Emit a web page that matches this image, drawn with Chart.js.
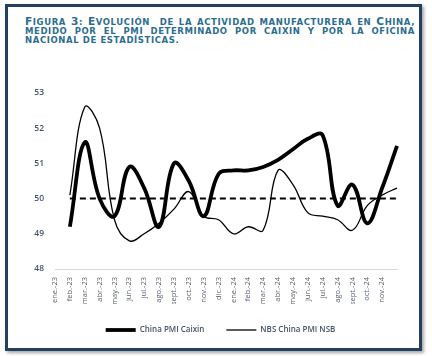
<!DOCTYPE html>
<html>
<head>
<meta charset="utf-8">
<script src="https://cdn.jsdelivr.net/npm/chart.js@4"></script>
<style>
  html, body { margin: 0; padding: 0; background: #ffffff; }
  body { width: 432px; height: 356px; position: relative; overflow: hidden; }
  #frame {
    position: absolute; left: 5px; top: 4px; width: 411px; height: 341px;
    border: 3px solid #243f60; box-shadow: 2px 2px 3px rgba(0,0,0,0.35);
    background: #fff;
  }
  #title {
    position: absolute; left: 25px; top: 17px; width: 390px;
    font-family: "DejaVu Sans", Verdana, sans-serif; font-weight: bold;
    text-transform: uppercase; font-size: 8.5px; line-height: 8.9px;
    letter-spacing: 0.6px; color: #2b6d8e; text-align: justify;
  }
  #title .cap { font-size: 10.6px; line-height: 8.9px; }
  #wrap { position: absolute; left: 0; top: 0; width: 432px; height: 356px; }
</style>
</head>
<body>
<div id="frame"></div>
<div id="title"><span class="cap">F</span>igura <span class="cap">3</span>: <span class="cap">E</span>volución&nbsp; de la actividad manufacturera en <span class="cap">C</span>hina, medido por el pmi determinado por caixin y por la oficina nacional de estadísticas.</div>
<div id="wrap"><canvas id="c" width="432" height="356"></canvas></div>
<script>
const months = ['ene.-23','feb.-23','mar.-23','abr.-23','may.-23','jun.-23','jul.-23','ago.-23','sept.-23','oct.-23','nov.-23','dic.-23',
                'ene.-24','feb.-24','mar.-24','abr.-24','may.-24','jun.-24','jul.-24','ago.-24','sept.-24','oct.-24','nov.-24',''];
const caixin = [null, 49.2, 51.6, 50.0, 49.5, 50.9, 50.3, 49.2, 51.0, 50.5, 49.5, 50.7, 50.8,
                50.8, 50.9, 51.1, 51.4, 51.7, 51.8, 49.8, 50.4, 49.3, 50.3, 51.5];
const nbs    = [null, 50.1, 52.6, 52.0, 49.4, 48.8, 49.0, 49.3, 49.7, 50.2, 49.5, 49.4, 49.0,
                49.2, 49.1, 50.8, 50.4, 49.6, 49.5, 49.4, 49.1, 49.8, 50.1, 50.3];
const threshold = [null, 50, 50, 50, 50, 50, 50, 50, 50, 50, 50, 50, 50,
                   50, 50, 50, 50, 50, 50, 50, 50, 50, 50, 50];
const yMin = 48, yMax = 53, yStep = 1;

const shiftLegend = {
  id: 'shiftLegend',
  afterLayout(chart) {
    const lg = chart.legend;
    if (lg) { lg.left += 7; lg.right += 7; }
  }
};

new Chart(document.getElementById('c'), {
  type: 'line',
  data: {
    labels: months,
    datasets: [
      { label: 'China PMI Caixin', data: caixin, borderColor: '#000', backgroundColor: '#000',
        borderWidth: 3.8, tension: 0.4, pointRadius: 0, pointStyle: 'line', order: 1 },
      { label: 'NBS China PMI NSB', data: nbs, borderColor: '#000', backgroundColor: '#000',
        borderWidth: 1.3, tension: 0.4, pointRadius: 0, pointStyle: 'line', order: 2 },
      { label: '50', data: threshold, borderColor: '#000', borderWidth: 2,
        borderDash: [6, 4], pointRadius: 0, tension: 0, order: 3 }
    ]
  },
  plugins: [shiftLegend],
  options: {
    responsive: false,
    animation: false,
    layout: { padding: { left: 30, right: 35, top: 93, bottom: 12 } },
    plugins: {
      tooltip: { enabled: false },
      legend: {
        position: 'bottom',
        labels: {
          filter: (item) => item.datasetIndex < 2,
          usePointStyle: true, pointStyleWidth: 30, boxHeight: 8,
          padding: 22,
          color: '#44546a',
          font: { family: "'Open Sans', sans-serif", size: 8, weight: '600' }
        }
      }
    },
    scales: {
      x: {
        grid: { display: false, drawTicks: false },
        border: { display: true, color: '#d9d9d9', width: 1 },
        ticks: { autoSkip: false, maxRotation: 90, minRotation: 90, padding: 8,
                 color: '#5a6270', font: { family: "'Open Sans', sans-serif", size: 7.5 } },
        afterFit: (s) => { s.height = 35; }
      },
      y: {
        min: yMin, max: yMax,
        grid: { display: false, drawTicks: false },
        border: { display: false },
        ticks: { stepSize: yStep, padding: 11, color: '#44546a',
                 font: { family: "'Open Sans', sans-serif", size: 8.5, weight: '600' } },
        afterFit: (s) => { s.width = 25; }
      }
    }
  }
});
</script>
</body>
</html>
